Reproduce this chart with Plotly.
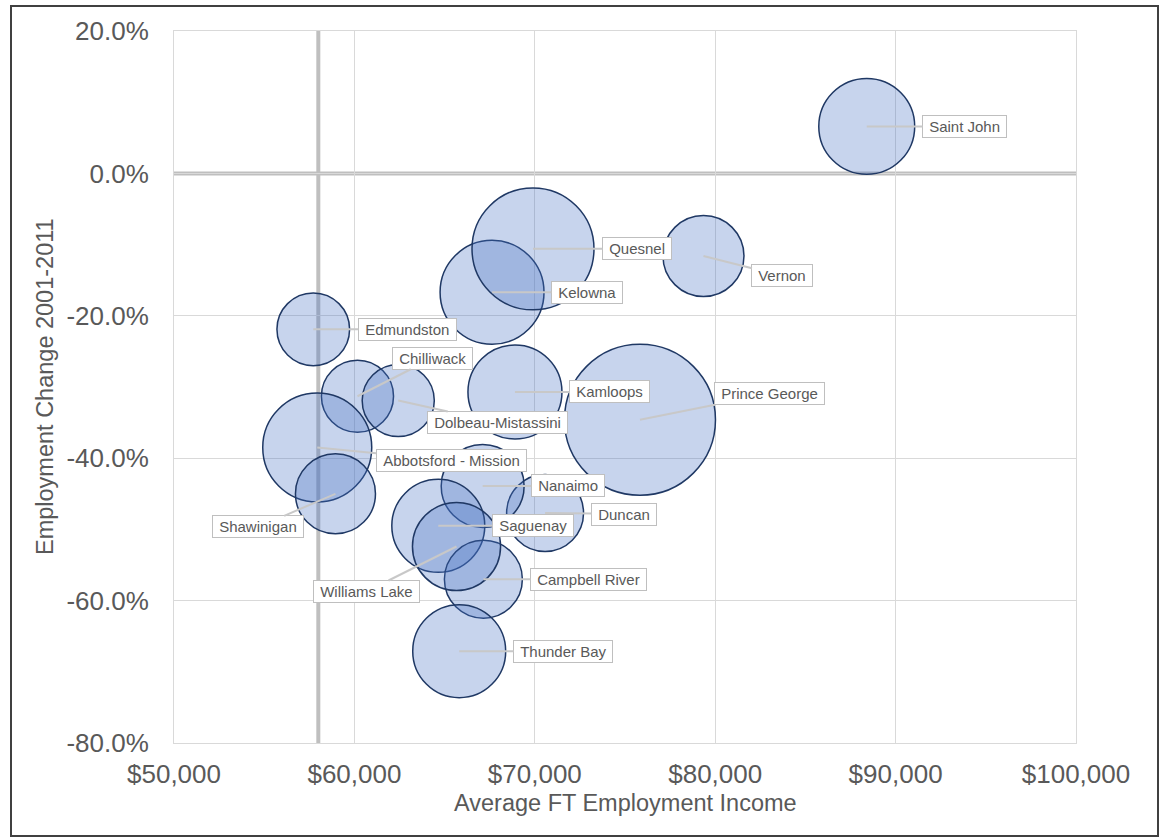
import plotly.graph_objects as go

# Communities, average full-time employment income, employment change 2001-2011
cities = [
    "Saint John", "Kelowna", "Quesnel", "Vernon", "Edmundston", "Chilliwack",
    "Dolbeau-Mistassini", "Kamloops", "Prince George", "Abbotsford - Mission",
    "Shawinigan", "Duncan", "Nanaimo", "Saguenay", "Campbell River",
    "Williams Lake", "Thunder Bay",
]
avg_income = [
    88400, 67630, 69900, 79350, 57720, 60170,
    62430, 68900, 75830, 57940,
    58950, 70570, 67110, 64650, 67150,
    65660, 65810,
]
emp_change = [
    6.6, -16.7, -10.6, -11.6, -21.9, -31.3,
    -31.9, -30.7, -34.6, -38.5,
    -45.0, -47.7, -43.9, -49.5, -57.0,
    -52.4, -67.1,
]
bubble_weight = [
    23.0, 27.0, 37.2, 16.4, 13.2, 13.0,
    13.0, 22.1, 57.0, 29.7,
    16.0, 14.8, 17.2, 21.6, 15.2,
    19.4, 21.6,
]

# Reference lines
ref_income = 58000
ref_change = 0.0

x_ticks = [50000, 60000, 70000, 80000, 90000, 100000]
y_ticks = [20, 0, -20, -40, -60, -80]

# Callout offsets (pixels) from each bubble centre to its label box
label_offset = {
    "Saint John": (98, 0),
    "Kelowna": (95, 0),
    "Quesnel": (104, 0),
    "Vernon": (79, 20),
    "Edmundston": (94, 0),
    "Chilliwack": (75, -38),
    "Dolbeau-Mistassini": (99, 22),
    "Kamloops": (95, 0),
    "Prince George": (130, -26),
    "Abbotsford - Mission": (134, 13),
    "Shawinigan": (-77, 33),
    "Duncan": (79, 1),
    "Nanaimo": (85, 0),
    "Saguenay": (95, 0),
    "Campbell River": (105, 0),
    "Williams Lake": (-90, 45),
    "Thunder Bay": (104, 0),
}

W, H = 1163, 839
ML, MR, MT, MB = 174, 87, 31, 96
PW, PH = W - ML - MR, H - MT - MB


def px_to_paper_x(px):
    return (px - ML) / PW


def px_to_paper_y(py):
    return 1 - (py - MT) / PH


FONT = "Liberation Sans, Arial, sans-serif"
TXT = "#595959"
GRID = "#d9d9d9"

fig = go.Figure()
fig.add_trace(go.Scatter(
    x=avg_income,
    y=emp_change,
    mode="markers",
    text=cities,
    marker=dict(
        size=bubble_weight,
        sizemode="area",
        sizeref=0.005,
        color="rgba(68,114,196,0.30)",
        line=dict(color="#1f3864", width=1.5),
        opacity=1,
    ),
    hoverinfo="text",
    showlegend=False,
))

shapes = [
    dict(type="line", xref="x", yref="paper", x0=ref_income, x1=ref_income,
         y0=0, y1=1, line=dict(color="#bfbfbf", width=4), layer="between"),
    dict(type="line", xref="paper", yref="y", x0=0, x1=1,
         y0=ref_change, y1=ref_change, line=dict(color="#bfbfbf", width=4),
         layer="between"),
    # chart frame
    dict(type="rect", xref="paper", yref="paper",
         x0=px_to_paper_x(11), x1=px_to_paper_x(1158),
         y0=px_to_paper_y(836), y1=px_to_paper_y(6),
         line=dict(color="#404040", width=2), layer="above"),
]

annotations = []
for name, xv, yv in zip(cities, avg_income, emp_change):
    ax, ay = label_offset[name]
    annotations.append(dict(
        x=xv, y=yv, xref="x", yref="y",
        text="\u00a0" + name + "\u00a0",
        showarrow=True, arrowhead=0, arrowwidth=2, arrowcolor="#c8c8c8",
        standoff=0, startstandoff=0,
        ax=ax, ay=ay,
        bgcolor="white", bordercolor="#bfbfbf", borderwidth=1, borderpad=2,
        font=dict(family=FONT, size=15, color=TXT),
    ))

annotations.append(dict(
    text="Average FT Employment Income", xref="paper", yref="paper",
    x=0.5, y=px_to_paper_y(803), xanchor="center", yanchor="middle",
    showarrow=False, font=dict(family=FONT, size=23.5, color=TXT),
))
annotations.append(dict(
    text="Employment Change 2001-2011", xref="paper", yref="paper",
    x=px_to_paper_x(45), y=px_to_paper_y(387), xanchor="center", yanchor="middle",
    textangle=-90, showarrow=False, font=dict(family=FONT, size=23.5, color=TXT),
))

fig.update_layout(
    width=W, height=H,
    margin=dict(l=ML, r=MR, t=MT, b=MB, pad=0),
    paper_bgcolor="white",
    plot_bgcolor="white",
    font=dict(family=FONT, color=TXT),
    shapes=shapes,
    annotations=annotations,
    xaxis=dict(
        range=[50000, 100000],
        tickvals=x_ticks,
        ticktext=["${:,}".format(v) for v in x_ticks],
        tickfont=dict(family=FONT, size=26, color=TXT),
        showgrid=True, gridcolor=GRID, gridwidth=1,
        zeroline=False,
        showline=True, mirror=True, linecolor=GRID, linewidth=1,
        ticks="outside", ticklen=8, tickcolor="rgba(0,0,0,0)",
    ),
    yaxis=dict(
        range=[-80, 20],
        tickvals=y_ticks,
        ticktext=["{:.1f}%".format(v) for v in y_ticks],
        tickfont=dict(family=FONT, size=26, color=TXT),
        showgrid=True, gridcolor=GRID, gridwidth=1,
        zeroline=False,
        showline=True, mirror=True, linecolor=GRID, linewidth=1,
        ticks="outside", ticklen=19, tickcolor="rgba(0,0,0,0)",
    ),
)

fig.write_html("out.html")
